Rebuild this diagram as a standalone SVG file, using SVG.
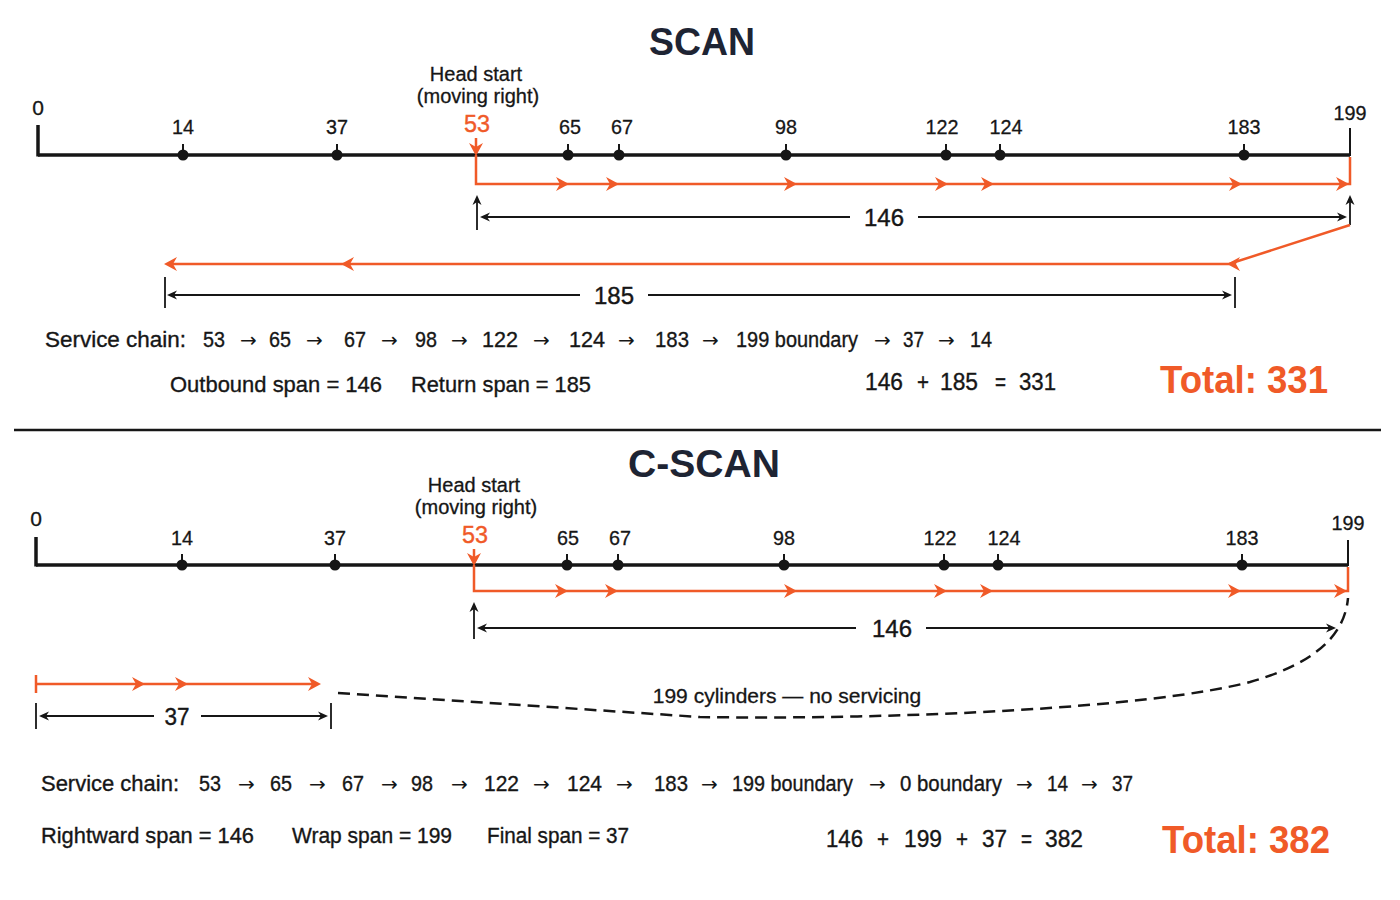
<svg xmlns="http://www.w3.org/2000/svg" xmlns:xlink="http://www.w3.org/1999/xlink" width="1400" height="900" viewBox="0 0 1400 900">
<style>
  text { font-family: "Liberation Sans", Arial, sans-serif; fill: #161616; }
  .title { font-size: 39px; font-weight: bold; fill: #1e2433; text-anchor: middle; }
  .tick { font-size: 21px; text-anchor: middle; stroke: #161616; stroke-width: 0.3; }
  .head { font-size: 20px; text-anchor: middle; stroke: #161616; stroke-width: 0.3; }
  .start { font-size: 24px; text-anchor: middle; fill: #f05a28; stroke: #f05a28; stroke-width: 0.4; }
  .dim { font-size: 24px; text-anchor: middle; stroke: #161616; stroke-width: 0.4; }
  .chain { font-size: 22px; stroke: #161616; stroke-width: 0.35; }
  .arr { font-family: "DejaVu Sans", sans-serif; font-size: 20px; fill: #161616; }
  .sum { font-size: 23px; stroke: #161616; stroke-width: 0.35; }
  .total { font-size: 38px; font-weight: bold; fill: #f05a28; }
  .note { font-size: 21px; text-anchor: middle; stroke: #161616; stroke-width: 0.3; }
  .axis { stroke: #161616; stroke-width: 3.5; fill: none; }
  .end { stroke: #161616; stroke-width: 2; fill: none; }
  .orange { stroke: #f05a28; stroke-width: 2.5; fill: none; }
  .dimline { stroke: #161616; stroke-width: 1.8; fill: none; }
  .dash { stroke: #161616; stroke-width: 2.5; fill: none; stroke-dasharray: 12 7; }
  .dot { fill: #161616; }
</style>
<defs>
  <path id="oa" d="M0,0 L-13,-7 L-9,0 L-13,7 Z" fill="#f05a28"/>
  <path id="ba" d="M0,0 L-10,-4.5 L-7,0 L-10,4.5 Z" fill="#161616"/>
  <g id="dotmark"><line x1="0" y1="-11" x2="0" y2="0" stroke="#161616" stroke-width="2"/><circle cx="0" cy="0" r="5.5" class="dot"/></g>
</defs>
<rect width="1400" height="900" fill="#ffffff"/>

<!-- ================= SCAN ================= -->
<text id="scan-title" class="title" x="702" y="55" textLength="106" lengthAdjust="spacingAndGlyphs">SCAN</text>

<g id="scan-axis">
  <line class="axis" x1="38" y1="155" x2="1350" y2="155"/>
  <line class="axis" x1="38" y1="125" x2="38" y2="156.5"/>
  <line class="end" x1="1350" y1="128" x2="1350" y2="156"/>
  <text class="tick" x="38" y="115">0</text>
  <text class="tick" x="1350" y="120" textLength="33" lengthAdjust="spacingAndGlyphs">199</text>
</g>
<g id="scan-c14"><use xlink:href="#dotmark" x="183" y="155"/><text class="tick" x="183" y="134" textLength="22" lengthAdjust="spacingAndGlyphs">14</text></g>
<g id="scan-c37"><use xlink:href="#dotmark" x="337" y="155"/><text class="tick" x="337" y="134" textLength="22" lengthAdjust="spacingAndGlyphs">37</text></g>
<g id="scan-c65"><use xlink:href="#dotmark" x="568" y="155"/><text class="tick" x="570" y="134" textLength="22" lengthAdjust="spacingAndGlyphs">65</text></g>
<g id="scan-c67"><use xlink:href="#dotmark" x="619" y="155"/><text class="tick" x="622" y="134" textLength="22" lengthAdjust="spacingAndGlyphs">67</text></g>
<g id="scan-c98"><use xlink:href="#dotmark" x="786" y="155"/><text class="tick" x="786" y="134" textLength="22" lengthAdjust="spacingAndGlyphs">98</text></g>
<g id="scan-c122"><use xlink:href="#dotmark" x="946" y="155"/><text class="tick" x="942" y="134" textLength="33" lengthAdjust="spacingAndGlyphs">122</text></g>
<g id="scan-c124"><use xlink:href="#dotmark" x="1000" y="155"/><text class="tick" x="1006" y="134" textLength="33" lengthAdjust="spacingAndGlyphs">124</text></g>
<g id="scan-c183"><use xlink:href="#dotmark" x="1244" y="155"/><text class="tick" x="1244" y="134" textLength="33" lengthAdjust="spacingAndGlyphs">183</text></g>
<g id="scan-head">
  <text class="head" x="476" y="81">Head start</text>
  <text class="head" x="478" y="103">(moving right)</text>
  <text class="start" x="477" y="132" textLength="26" lengthAdjust="spacingAndGlyphs">53</text>
</g>

<g id="scan-connectors">
  <line class="orange" x1="476" y1="138" x2="476" y2="150"/>
  <use xlink:href="#oa" transform="translate(476,156) rotate(90)"/>
  <polyline class="orange" points="476,155 476,184 1350,184 1350,157"/>
  <use xlink:href="#oa" x="569" y="184"/>
  <use xlink:href="#oa" x="619" y="184"/>
  <use xlink:href="#oa" x="797" y="184"/>
  <use xlink:href="#oa" x="948" y="184"/>
  <use xlink:href="#oa" x="994" y="184"/>
  <use xlink:href="#oa" x="1242" y="184"/>
  <use xlink:href="#oa" x="1349" y="184"/>

  <line class="dimline" x1="477" y1="198" x2="477" y2="230"/>
  <use xlink:href="#ba" transform="translate(477,195) rotate(-90)"/>
  <line class="dimline" x1="1350" y1="198" x2="1350" y2="225"/>
  <use xlink:href="#ba" transform="translate(1350,195) rotate(-90)"/>
  <line class="dimline" x1="483" y1="217" x2="850" y2="217"/>
  <line class="dimline" x1="918" y1="217" x2="1344" y2="217"/>
  <use xlink:href="#ba" transform="translate(480,217) rotate(180)"/>
  <use xlink:href="#ba" x="1347" y="217"/>
  <text class="dim" x="884" y="226" textLength="40" lengthAdjust="spacingAndGlyphs">146</text>

  <polyline class="orange" points="1350,225 1229,264 168,264"/>
  <use xlink:href="#oa" transform="translate(1227,264) rotate(180)"/>
  <use xlink:href="#oa" transform="translate(341,264) rotate(180)"/>
  <use xlink:href="#oa" transform="translate(164,264) rotate(180)"/>

  <line class="dimline" x1="165" y1="277" x2="165" y2="308"/>
  <line class="dimline" x1="1235" y1="277" x2="1235" y2="308"/>
  <line class="dimline" x1="170" y1="295" x2="580" y2="295"/>
  <line class="dimline" x1="648" y1="295" x2="1229" y2="295"/>
  <use xlink:href="#ba" transform="translate(167,295) rotate(180)"/>
  <use xlink:href="#ba" x="1232" y="295"/>
  <text class="dim" x="614" y="304" textLength="40" lengthAdjust="spacingAndGlyphs">185</text>
</g>

<g id="scan-summary">
  <text class="chain" x="45" y="347" textLength="141" lengthAdjust="spacingAndGlyphs">Service chain:</text>
  <text class="chain" x="203" y="347" textLength="22" lengthAdjust="spacingAndGlyphs">53</text>
  <text class="arr" x="240" y="347">→</text>
  <text class="chain" x="269" y="347" textLength="22" lengthAdjust="spacingAndGlyphs">65</text>
  <text class="arr" x="306" y="347">→</text>
  <text class="chain" x="344" y="347" textLength="22" lengthAdjust="spacingAndGlyphs">67</text>
  <text class="arr" x="381" y="347">→</text>
  <text class="chain" x="415" y="347" textLength="22" lengthAdjust="spacingAndGlyphs">98</text>
  <text class="arr" x="451" y="347">→</text>
  <text class="chain" x="482" y="347" textLength="36" lengthAdjust="spacingAndGlyphs">122</text>
  <text class="arr" x="533" y="347">→</text>
  <text class="chain" x="569" y="347" textLength="36" lengthAdjust="spacingAndGlyphs">124</text>
  <text class="arr" x="618" y="347">→</text>
  <text class="chain" x="655" y="347" textLength="34" lengthAdjust="spacingAndGlyphs">183</text>
  <text class="arr" x="702" y="347">→</text>
  <text class="chain" x="736" y="347" textLength="122" lengthAdjust="spacingAndGlyphs">199 boundary</text>
  <text class="arr" x="874" y="347">→</text>
  <text class="chain" x="903" y="347" textLength="21" lengthAdjust="spacingAndGlyphs">37</text>
  <text class="arr" x="938" y="347">→</text>
  <text class="chain" x="970" y="347" textLength="22" lengthAdjust="spacingAndGlyphs">14</text>

  <text class="chain" x="170" y="392" textLength="212" lengthAdjust="spacingAndGlyphs">Outbound span = 146</text>
  <text class="chain" x="411" y="392" textLength="180" lengthAdjust="spacingAndGlyphs">Return span = 185</text>

  <text class="sum" x="865" y="390" textLength="38" lengthAdjust="spacingAndGlyphs">146</text>
  <text class="sum" x="917" y="390" textLength="12" lengthAdjust="spacingAndGlyphs">+</text>
  <text class="sum" x="940" y="390" textLength="38" lengthAdjust="spacingAndGlyphs">185</text>
  <text class="sum" x="995" y="390" textLength="11" lengthAdjust="spacingAndGlyphs">=</text>
  <text class="sum" x="1019" y="390" textLength="37" lengthAdjust="spacingAndGlyphs">331</text>
  <text class="total" x="1160" y="393" textLength="168" lengthAdjust="spacingAndGlyphs">Total: 331</text>
</g>

<line id="divider" x1="14" y1="430" x2="1381" y2="430" stroke="#161616" stroke-width="2.5"/>

<!-- ================= C-SCAN ================= -->
<text id="cscan-title" class="title" x="704" y="477" textLength="152" lengthAdjust="spacingAndGlyphs">C-SCAN</text>

<g id="cscan-axis">
  <line class="axis" x1="36" y1="565" x2="1348" y2="565"/>
  <line class="axis" x1="36" y1="537" x2="36" y2="566.5"/>
  <line class="end" x1="1348" y1="540" x2="1348" y2="566"/>
  <text class="tick" x="36" y="526">0</text>
  <text class="tick" x="1348" y="530" textLength="33" lengthAdjust="spacingAndGlyphs">199</text>
</g>
<g id="cscan-c14"><use xlink:href="#dotmark" x="182" y="565"/><text class="tick" x="182" y="545" textLength="22" lengthAdjust="spacingAndGlyphs">14</text></g>
<g id="cscan-c37"><use xlink:href="#dotmark" x="335" y="565"/><text class="tick" x="335" y="545" textLength="22" lengthAdjust="spacingAndGlyphs">37</text></g>
<g id="cscan-c65"><use xlink:href="#dotmark" x="567" y="565"/><text class="tick" x="568" y="545" textLength="22" lengthAdjust="spacingAndGlyphs">65</text></g>
<g id="cscan-c67"><use xlink:href="#dotmark" x="618" y="565"/><text class="tick" x="620" y="545" textLength="22" lengthAdjust="spacingAndGlyphs">67</text></g>
<g id="cscan-c98"><use xlink:href="#dotmark" x="784" y="565"/><text class="tick" x="784" y="545" textLength="22" lengthAdjust="spacingAndGlyphs">98</text></g>
<g id="cscan-c122"><use xlink:href="#dotmark" x="944" y="565"/><text class="tick" x="940" y="545" textLength="33" lengthAdjust="spacingAndGlyphs">122</text></g>
<g id="cscan-c124"><use xlink:href="#dotmark" x="998" y="565"/><text class="tick" x="1004" y="545" textLength="33" lengthAdjust="spacingAndGlyphs">124</text></g>
<g id="cscan-c183"><use xlink:href="#dotmark" x="1242" y="565"/><text class="tick" x="1242" y="545" textLength="33" lengthAdjust="spacingAndGlyphs">183</text></g>
<g id="cscan-head">
  <text class="head" x="474" y="492">Head start</text>
  <text class="head" x="476" y="514">(moving right)</text>
  <text class="start" x="475" y="543" textLength="26" lengthAdjust="spacingAndGlyphs">53</text>
</g>

<g id="cscan-connectors">
  <line class="orange" x1="474" y1="549" x2="474" y2="560"/>
  <use xlink:href="#oa" transform="translate(474,566) rotate(90)"/>
  <polyline class="orange" points="474,565 474,591 1348,591 1348,567"/>
  <use xlink:href="#oa" x="568" y="591"/>
  <use xlink:href="#oa" x="618" y="591"/>
  <use xlink:href="#oa" x="797" y="591"/>
  <use xlink:href="#oa" x="947" y="591"/>
  <use xlink:href="#oa" x="993" y="591"/>
  <use xlink:href="#oa" x="1241" y="591"/>
  <use xlink:href="#oa" x="1347" y="591"/>

  <line class="dimline" x1="474" y1="605" x2="474" y2="639"/>
  <use xlink:href="#ba" transform="translate(474,602) rotate(-90)"/>
  <line class="dimline" x1="480" y1="628" x2="856" y2="628"/>
  <line class="dimline" x1="926" y1="628" x2="1333" y2="628"/>
  <use xlink:href="#ba" transform="translate(477,628) rotate(180)"/>
  <use xlink:href="#ba" x="1336" y="628"/>
  <text class="dim" x="892" y="637" textLength="40" lengthAdjust="spacingAndGlyphs">146</text>

  <path class="dash" d="M338,693 L700,717 C900,720 1150,708 1250,682 C1320,662 1345,632 1348,598"/>
  <text class="note" x="787" y="703">199 cylinders — no servicing</text>

  <line class="orange" x1="36" y1="675" x2="36" y2="693"/>
  <line class="orange" x1="36" y1="684" x2="316" y2="684"/>
  <use xlink:href="#oa" x="145" y="684"/>
  <use xlink:href="#oa" x="188" y="684"/>
  <use xlink:href="#oa" x="321" y="684"/>

  <line class="dimline" x1="36" y1="703" x2="36" y2="729"/>
  <line class="dimline" x1="331" y1="703" x2="331" y2="729"/>
  <line class="dimline" x1="42" y1="716" x2="154" y2="716"/>
  <line class="dimline" x1="201" y1="716" x2="325" y2="716"/>
  <use xlink:href="#ba" transform="translate(39,716) rotate(180)"/>
  <use xlink:href="#ba" x="328" y="716"/>
  <text class="dim" x="177" y="725" textLength="25" lengthAdjust="spacingAndGlyphs">37</text>
</g>

<g id="cscan-summary">
  <text class="chain" x="41" y="791" textLength="138" lengthAdjust="spacingAndGlyphs">Service chain:</text>
  <text class="chain" x="199" y="791" textLength="22" lengthAdjust="spacingAndGlyphs">53</text>
  <text class="arr" x="238" y="791">→</text>
  <text class="chain" x="270" y="791" textLength="22" lengthAdjust="spacingAndGlyphs">65</text>
  <text class="arr" x="309" y="791">→</text>
  <text class="chain" x="342" y="791" textLength="22" lengthAdjust="spacingAndGlyphs">67</text>
  <text class="arr" x="381" y="791">→</text>
  <text class="chain" x="411" y="791" textLength="22" lengthAdjust="spacingAndGlyphs">98</text>
  <text class="arr" x="451" y="791">→</text>
  <text class="chain" x="484" y="791" textLength="35" lengthAdjust="spacingAndGlyphs">122</text>
  <text class="arr" x="533" y="791">→</text>
  <text class="chain" x="567" y="791" textLength="35" lengthAdjust="spacingAndGlyphs">124</text>
  <text class="arr" x="616" y="791">→</text>
  <text class="chain" x="654" y="791" textLength="34" lengthAdjust="spacingAndGlyphs">183</text>
  <text class="arr" x="701" y="791">→</text>
  <text class="chain" x="732" y="791" textLength="121" lengthAdjust="spacingAndGlyphs">199 boundary</text>
  <text class="arr" x="869" y="791">→</text>
  <text class="chain" x="900" y="791" textLength="102" lengthAdjust="spacingAndGlyphs">0 boundary</text>
  <text class="arr" x="1016" y="791">→</text>
  <text class="chain" x="1047" y="791" textLength="21" lengthAdjust="spacingAndGlyphs">14</text>
  <text class="arr" x="1081" y="791">→</text>
  <text class="chain" x="1112" y="791" textLength="21" lengthAdjust="spacingAndGlyphs">37</text>

  <text class="chain" x="41" y="843" textLength="213" lengthAdjust="spacingAndGlyphs">Rightward span = 146</text>
  <text class="chain" x="292" y="843" textLength="160" lengthAdjust="spacingAndGlyphs">Wrap span = 199</text>
  <text class="chain" x="487" y="843" textLength="142" lengthAdjust="spacingAndGlyphs">Final span = 37</text>

  <text class="sum" x="826" y="847" textLength="37" lengthAdjust="spacingAndGlyphs">146</text>
  <text class="sum" x="877" y="847" textLength="12" lengthAdjust="spacingAndGlyphs">+</text>
  <text class="sum" x="904" y="847" textLength="38" lengthAdjust="spacingAndGlyphs">199</text>
  <text class="sum" x="956" y="847" textLength="12" lengthAdjust="spacingAndGlyphs">+</text>
  <text class="sum" x="982" y="847" textLength="25" lengthAdjust="spacingAndGlyphs">37</text>
  <text class="sum" x="1021" y="847" textLength="11" lengthAdjust="spacingAndGlyphs">=</text>
  <text class="sum" x="1045" y="847" textLength="38" lengthAdjust="spacingAndGlyphs">382</text>
  <text class="total" x="1162" y="853" textLength="168" lengthAdjust="spacingAndGlyphs">Total: 382</text>
</g>
</svg>
